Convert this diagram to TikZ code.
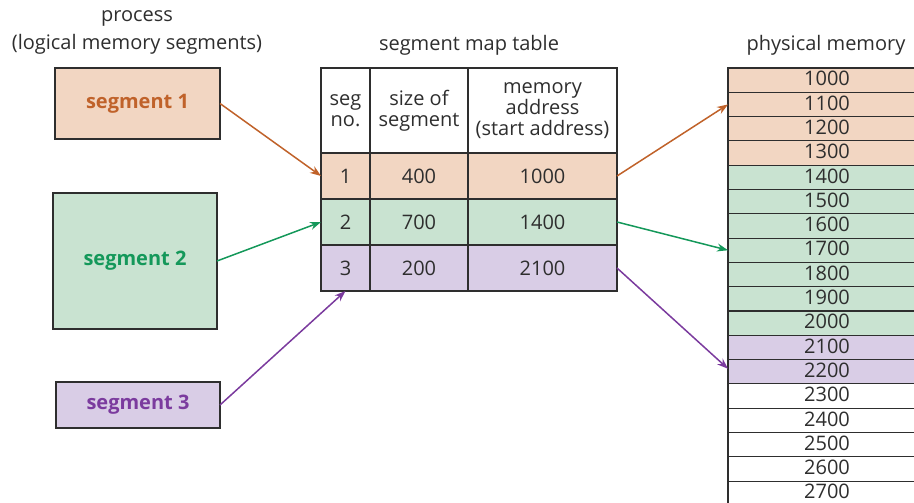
\documentclass[tikz,border=0pt]{standalone}
\usepackage{fontspec}
\setmainfont{Open Sans}
\usetikzlibrary{arrows.meta,calc}
\definecolor{orfill}{HTML}{F2D6C2}
\definecolor{ortext}{HTML}{C0622A}
\definecolor{grfill}{HTML}{C9E3D1}
\definecolor{grtext}{HTML}{14985A}
\definecolor{pufill}{HTML}{D9CDE6}
\definecolor{putext}{HTML}{7B3B9E}
\definecolor{ink}{HTML}{2E2E2E}
\begin{document}
\begin{tikzpicture}[x=1pt,y=-1pt,
  font=\fontsize{20}{21}\selectfont,
  box/.style={draw=ink, line width=1.1pt, inner sep=0pt, outer sep=0pt, anchor=north west, text=ink, align=center},
  seglabel/.style={font=\fontsize{20}{22}\selectfont\bfseries},
  title/.style={text=ink, align=center, inner sep=0pt},
  link/.style={line width=1.5pt, -{Stealth[length=11pt,width=8pt]}}]
\useasboundingbox (0,0) rectangle (914,503);
\clip (0,0) rectangle (914,503);
% titles
\node[title, font=\fontsize{20}{28}\selectfont] (t1) at (137,32) {process\\(logical memory segments)};
\node[title] (t2) at (469,45) {segment map table};
\node[title] (t3) at (826,45) {physical memory};
% process segments
\node[box, fill=orfill, minimum width=165pt, minimum height=71pt] (s1) at (55,68) {};
\node[seglabel, text=ortext] at (s1.center) {segment 1};
\node[box, fill=grfill, minimum width=164pt, minimum height=136pt] (s2) at (53,193) {};
\node[seglabel, text=grtext] at (s2.center) {segment 2};
\node[box, fill=pufill, minimum width=164pt, minimum height=46pt] (s3) at (56,382) {};
\node[seglabel, text=putext] at (s3.center) {segment 3};
% table
\node[box, minimum width=49pt, minimum height=85pt] (h1) at (321,68) {seg\\no.};
\node[box, minimum width=98pt, minimum height=85pt] (h2) at (370,68) {size of\\segment};
\node[box, minimum width=149pt, minimum height=85pt] (h3) at (468,68) {memory\\address\\(start address)};
\foreach \r/\y/\c/\a/\b/\d in {1/153/orfill/1/400/1000, 2/199/grfill/2/700/1400, 3/245/pufill/3/200/2100}{
  \node[box, fill=\c, minimum width=49pt, minimum height=46pt] (c\r1) at (321,\y) {\a};
  \node[box, fill=\c, minimum width=98pt, minimum height=46pt] (c\r2) at (370,\y) {\b};
  \node[box, fill=\c, minimum width=149pt, minimum height=46pt] (c\r3) at (468,\y) {\d};
}
% physical memory
\foreach \i/\v/\c in {0/1000/orfill,1/1100/orfill,2/1200/orfill,3/1300/orfill,
  4/1400/grfill,5/1500/grfill,6/1600/grfill,7/1700/grfill,8/1800/grfill,9/1900/grfill,10/2000/grfill,
  11/2100/pufill,12/2200/pufill,13/2300/white,14/2400/white,15/2500/white,16/2600/white,17/2700/white}{
  \node[box, fill=\c, minimum width=198pt, minimum height=24.3pt] (m\i) at (728,{68+24.3*\i}) {};
  \node[text=ink, inner sep=0pt, yshift=1.5pt, font=\fontsize{20}{20}\selectfont] at (m\i.center) {\v};
}
% connectors
\draw[link, draw=ortext, fill=ortext] (s1.east) -- (c11.west);
\draw[link, draw=grtext, fill=grtext] (s2.east) -- (c21.west);
\draw[link, draw=putext, fill=putext] (s3.east) -- (c31.south);
\draw[link, draw=ortext, fill=ortext] (c13.east) -- (m1.west);
\draw[link, draw=grtext, fill=grtext] (c23.east) -- (m7.west);
\draw[link, draw=putext, fill=putext] (c33.east) -- ($(m12.west)+(0,-3)$);
\end{tikzpicture}
\end{document}
